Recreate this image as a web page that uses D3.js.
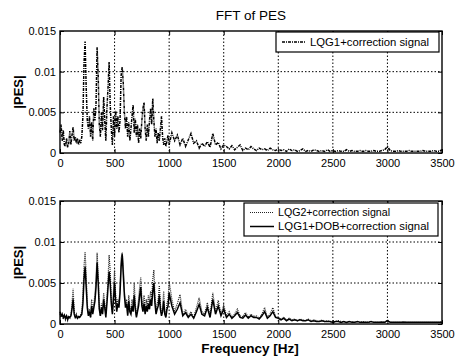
<!DOCTYPE html>
<html>
<head>
<meta charset="utf-8">
<script src="https://cdn.jsdelivr.net/npm/d3@7"></script>
<style>
  body { margin: 0; background: #fff; }
  svg { display: block; font-family: "Liberation Sans", Arial, sans-serif; }
</style>
</head>
<body>
<svg id="chart" width="457" height="358"></svg>
<script>
// spectrum samples: 0..1000 Hz every 10 Hz, then 1025..3500 Hz every 25 Hz
// magnitudes are in units of 1e-4
const lowStep = 10, lowMax = 1000, highStep = 25, highMax = 3500
const unit = 1e-4

const pesLqg1 = [
  25,35,15,28,10,8,18,7,12,27, 10,22,32,15,20,12,18,10,17,12,
  20,45,110,137,80,40,30,45,20,38, 15,55,40,60,130,95,35,20,50,28,
  69,40,15,55,80,112,60,30,10,45, 20,52,30,45,25,40,95,106,85,50,
  30,45,20,38,15,30,45,59,25,42, 20,35,12,30,18,40,55,62,30,15,
  35,20,40,55,35,67,40,20,30,12, 25,15,30,45,20,10,18,8,15,22, 10,
  25,15,22,10,18,8,16,24,12,15, 6,12,8,14,7,24,10,13,5,10,
  8,5,9,4,7,10,3,6,4,8, 5,3,6,4,5,3,6,4,3,5,
  3,4,2,5,3,4,2,3,5,2, 3,2,4,3,2,3,2,4,2,3,
  2,3,2,2,4,2,3,2,2,3, 2,3,2,2,3,2,2,3,4,8,
  3,2,2,3,2,2,2,3,2,2, 2,2,3,2,2,2,3,2,2,4
]

const pesLqg2 = [
  12,8,14,6,10,5,9,4,8,6, 10,25,43,15,8,12,6,10,8,12,
  15,35,70,88,60,25,12,18,8,30, 15,25,35,55,87,60,20,10,25,15,
  38,25,12,30,55,84,65,30,15,40, 66,35,20,30,25,45,80,87,70,40,
  25,30,12,35,20,15,30,20,50,25, 10,20,30,45,57,30,20,35,15,30,
  20,35,25,40,30,55,66,35,15,25, 30,47,25,12,20,40,15,10,25,30, 52,
  30,15,25,36,12,18,10,15,8,20, 32,15,12,26,10,38,15,29,12,23,
  10,15,8,12,18,10,9,14,8,12, 9,10,7,12,20,8,12,20,9,8,
  6,8,5,7,5,6,4,6,5,4, 6,4,5,4,3,5,3,4,3,3,
  3,4,3,3,2,3,3,2,3,2, 3,2,2,3,2,2,2,3,2,5,
  2,2,2,2,2,3,2,2,2,2, 2,2,2,2,2,2,2,2,2,3
]

const pesLqg1Dob = [
  15,10,12,8,11,7,10,6,9,8, 10,18,30,12,8,10,7,9,8,10,
  12,25,55,70,45,20,10,15,8,22, 12,20,28,45,75,50,18,10,20,12,
  30,20,8,25,45,64,50,25,12,30, 50,28,15,25,20,38,70,85,60,35,
  20,25,10,28,15,12,22,15,35,18, 8,15,22,35,45,22,15,25,12,22,
  15,25,18,30,22,40,50,25,12,18, 22,35,18,10,15,28,12,8,18,22, 38,
  22,12,18,26,10,14,8,12,7,15, 24,12,10,20,8,30,12,22,10,18,
  8,12,7,10,14,8,7,11,7,10, 8,8,6,10,15,7,10,15,8,7,
  5,7,4,6,4,5,4,5,4,4, 5,3,4,3,3,4,3,3,3,2,
  3,3,2,3,2,3,2,2,3,2, 2,2,2,3,2,2,2,2,2,4,
  2,2,2,2,2,2,2,2,2,2, 2,2,2,2,2,2,2,2,2,2
]

const xTicks = [0, 500, 1000, 1500, 2000, 2500, 3000, 3500]
const yTicks = [0, 0.005, 0.01, 0.015]
const yTickLabels = ["0", "0.005", "0.01", "0.015"]

// frequency of sample i
function freqAt(i) {
  const nLow = lowMax / lowStep + 1
  return i < nLow ? i * lowStep : lowMax + (i - nLow + 1) * highStep
}
function toPoints(vals) {
  return vals.map((v, i) => ({ f: freqAt(i), m: v * unit }))
}

const svg = d3.select("#chart")
const left = 60, right = 442

const drawPanel = (top, bottom, series, legend, legendBox) => {
  const x = d3.scaleLinear().domain([0, highMax]).range([left, right])
  const y = d3.scaleLinear().domain([0, 0.015]).range([bottom, top])
  const g = svg.append("g")

  // grid
  g.selectAll(".vgrid").data(xTicks.slice(1, -1)).enter().append("line")
    .attr("x1", d => x(d)).attr("x2", d => x(d))
    .attr("y1", top).attr("y2", bottom)
    .attr("stroke", "#000").attr("stroke-width", 1).attr("stroke-dasharray", "1.5,2")
  g.selectAll(".hgrid").data(yTicks.slice(1, -1)).enter().append("line")
    .attr("x1", left).attr("x2", right)
    .attr("y1", d => y(d)).attr("y2", d => y(d))
    .attr("stroke", "#000").attr("stroke-width", 1).attr("stroke-dasharray", "1.5,2")

  const line = d3.line().x(d => x(d.f)).y(d => y(d.m))
  series.forEach(s => {
    g.append("path")
      .attr("d", line(toPoints(s.values)))
      .attr("fill", "none")
      .attr("stroke", s.color)
      .attr("stroke-width", s.width)
      .attr("stroke-dasharray", s.dash)
  })

  // axes, ticks inward
  const xAxis = d3.axisBottom(x).tickValues(xTicks).tickSize(-4).tickPadding(6).tickFormat(d3.format("d"))
  const yAxis = d3.axisLeft(y).tickValues(yTicks).tickSize(-4).tickPadding(4)
    .tickFormat((d, i) => yTickLabels[i])
  const ax = g.append("g").attr("transform", `translate(0,${bottom})`).call(xAxis)
  const ay = g.append("g").attr("transform", `translate(${left},0)`).call(yAxis)
  ;[ax, ay].forEach(a => {
    a.select(".domain").remove()
    a.selectAll("line").attr("stroke", "#000")
    a.selectAll("text").attr("font-size", 11).attr("fill", "#000")
      .attr("font-family", "Liberation Sans, Arial, sans-serif")
  })
  g.append("g").attr("transform", `translate(0,${top})`)
    .call(d3.axisTop(x).tickValues(xTicks).tickSize(-4).tickFormat(""))
    .call(a => a.select(".domain").remove())
  g.append("g").attr("transform", `translate(${right},0)`)
    .call(d3.axisRight(y).tickValues(yTicks).tickSize(-4).tickFormat(""))
    .call(a => a.select(".domain").remove())

  g.append("rect").attr("x", left).attr("y", top)
    .attr("width", right - left).attr("height", bottom - top)
    .attr("fill", "none").attr("stroke", "#000").attr("stroke-width", 1.4)

  g.append("text")
    .attr("transform", `translate(23,${(top + bottom) / 2}) rotate(-90)`)
    .attr("text-anchor", "middle").attr("font-size", 13).attr("font-weight", "bold")
    .text("|PES|")

  // legend
  const lb = legendBox
  g.append("rect").attr("x", lb.x).attr("y", lb.y).attr("width", lb.w).attr("height", lb.h)
    .attr("fill", "#fff").attr("stroke", "#000").attr("stroke-width", 1.2)
  legend.forEach((item, i) => {
    const cy = lb.y + lb.pad + i * 14
    g.append("line")
      .attr("x1", lb.x + 6).attr("x2", lb.x + 30).attr("y1", cy).attr("y2", cy)
      .attr("stroke", item.color).attr("stroke-width", item.width)
      .attr("stroke-dasharray", item.dash)
    g.append("text")
      .attr("x", lb.x + 34).attr("y", cy + 3.5)
      .attr("font-size", 10).attr("fill", "#000")
      .attr("textLength", item.textLen).attr("lengthAdjust", "spacingAndGlyphs")
      .text(item.label)
  })
}

const topSeries = [
  { values: pesLqg1, color: "#000", width: 1.5, dash: "3,1,1,1", label: "LQG1+correction signal", textLen: 119 }
]
const bottomSeries = [
  { values: pesLqg2, color: "#222", width: 1.2, dash: "1,1", label: "LQG2+correction signal", textLen: 112 },
  { values: pesLqg1Dob, color: "#000", width: 1.5, dash: null, label: "LQG1+DOB+correction signal", textLen: 151 }
]

drawPanel(31, 153, topSeries, topSeries, { x: 276, y: 32, w: 163, h: 20, pad: 10 })
drawPanel(201, 324, bottomSeries, bottomSeries, { x: 244, y: 203, w: 194, h: 33, pad: 9.5 })

svg.append("text").attr("x", 251).attr("y", 20)
  .attr("text-anchor", "middle").attr("font-size", 13.5)
  .text("FFT of PES")
svg.append("text").attr("x", 250).attr("y", 353)
  .attr("text-anchor", "middle").attr("font-size", 13.5).attr("font-weight", "bold")
  .text("Frequency [Hz]")
</script>
</body>
</html>
